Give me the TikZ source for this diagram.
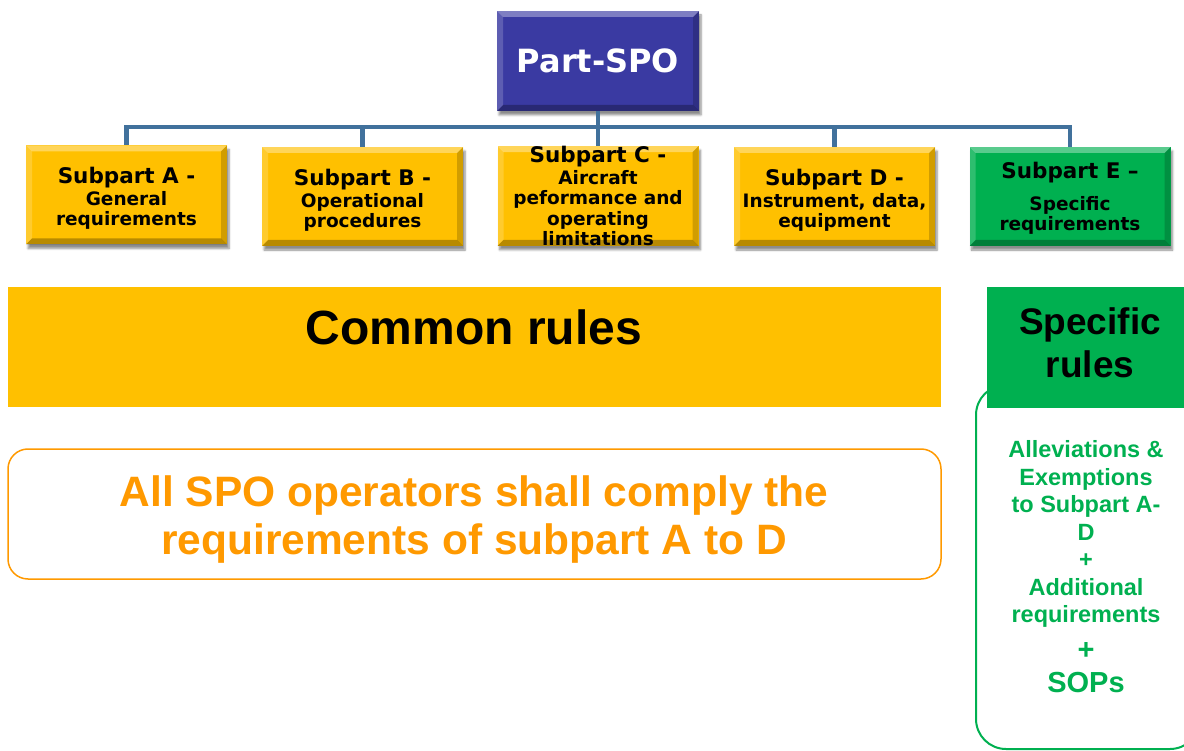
\documentclass[tikz,border=0pt]{standalone}
\usepackage{fontspec}
\setmainfont{Liberation Sans}
\newfontfamily\verd{DejaVu Sans}
\usetikzlibrary{shadows.blur}
\definecolor{spoblue}{RGB}{58,58,162}
\definecolor{gold}{RGB}{255,192,0}
\definecolor{sgreen}{RGB}{0,176,80}
\definecolor{conncol}{RGB}{65,113,156}
\definecolor{orng}{RGB}{255,153,0}
\tikzset{
  bevel/.style={path picture={
    \fill[white,opacity=0.35] (path picture bounding box.north west) -- (path picture bounding box.north east) -- ([xshift=-6pt,yshift=-6pt]path picture bounding box.north east) -- ([xshift=6pt,yshift=-6pt]path picture bounding box.north west) -- cycle;
    \fill[white,opacity=0.18] (path picture bounding box.north west) -- ([xshift=6pt,yshift=-6pt]path picture bounding box.north west) -- ([xshift=6pt,yshift=6pt]path picture bounding box.south west) -- (path picture bounding box.south west) -- cycle;
    \fill[black,opacity=0.18] (path picture bounding box.north east) -- ([xshift=-6pt,yshift=-6pt]path picture bounding box.north east) -- ([xshift=-6pt,yshift=6pt]path picture bounding box.south east) -- (path picture bounding box.south east) -- cycle;
    \fill[black,opacity=0.28] (path picture bounding box.south west) -- ([xshift=6pt,yshift=6pt]path picture bounding box.south west) -- ([xshift=-6pt,yshift=6pt]path picture bounding box.south east) -- (path picture bounding box.south east) -- cycle;
  }},
  subbox/.style={rectangle, minimum width=201pt, minimum height=99pt, inner sep=0pt, align=center, fill=gold, bevel,
    blur shadow={shadow xshift=2pt, shadow yshift=-4pt, shadow blur steps=6, shadow opacity=45}, font=\verd\bfseries\fontsize{18.5}{20.5}\selectfont},
  conn/.style={draw=conncol, line width=4.5pt},
}
\newcommand{\ttlt}[2][0pt]{{\fontsize{21.5}{23}\selectfont\rule{0pt}{#1}#2}}
\begin{document}
\begin{tikzpicture}[x=1pt,y=-1pt]
\useasboundingbox (0,0) rectangle (1184,751);
\coordinate (bus) at (598,127);
\node[subbox] (a) at (126.5,195) {\ttlt[23pt]{Subpart A -}\\[1pt]General\\requirements};
\node[subbox] (b) at (362.5,196.5) {\ttlt[24pt]{Subpart B -}\\[1pt]Operational\\procedures};
\node[subbox] (c) at (598,196) {\ttlt{Subpart C -}\\[1pt]Aircraft\\peformance and\\operating\\limitations};
\node[subbox] (d) at (834.5,196.5) {\ttlt[24pt]{Subpart D -}\\[1pt]Instrument, data,\\equipment};
\node[subbox, fill=sgreen] (e) at (1070,196.5) {\ttlt[20pt]{Subpart E –}\\[11pt]Specific\\requirements};
\node[subbox, fill=spoblue, minimum width=202pt, minimum height=100pt, text=white] (spo) at (598,61) {\fontsize{32}{36}\selectfont Part-SPO};
\draw[conn] (spo.south) -- (bus);
\foreach \n in {a,b,c,d,e} { \draw[conn] (bus) -| (\n.north); }
% common rules
\fill[gold] (8,287) rectangle (941,407);
\node[font=\bfseries\fontsize{48}{54}\selectfont] (common) at (474,327) {Common rules};
% specific rules
\draw[sgreen, line width=2pt, rounded corners=30pt] (976,385) rectangle (1200,749);
\fill[sgreen] (987,287) rectangle (1184,408);
\node[font=\bfseries\fontsize{37}{43}\selectfont, align=center] (specific) at (1090,343) {Specific\\rules};
\node[text=sgreen, font=\bfseries\fontsize{23.5}{27.5}\selectfont, align=center, anchor=north] (spectext) at (1086,437) {Alleviations \&\\Exemptions\\to Subpart A-\\D\\+\\Additional\\requirements\\[9pt]{\fontsize{29}{34}\selectfont +}\\[6pt]{\fontsize{29}{34}\selectfont SOPs}};
% all SPO
\draw[orng, line width=1.5pt, rounded corners=20pt] (8,449) rectangle (941,579);
\node[text=orng, font=\bfseries\fontsize{42.5}{48}\selectfont, align=center] (allspo) at (474,520) {All SPO operators shall comply the\\requirements of subpart A to D};
\end{tikzpicture}
\end{document}
